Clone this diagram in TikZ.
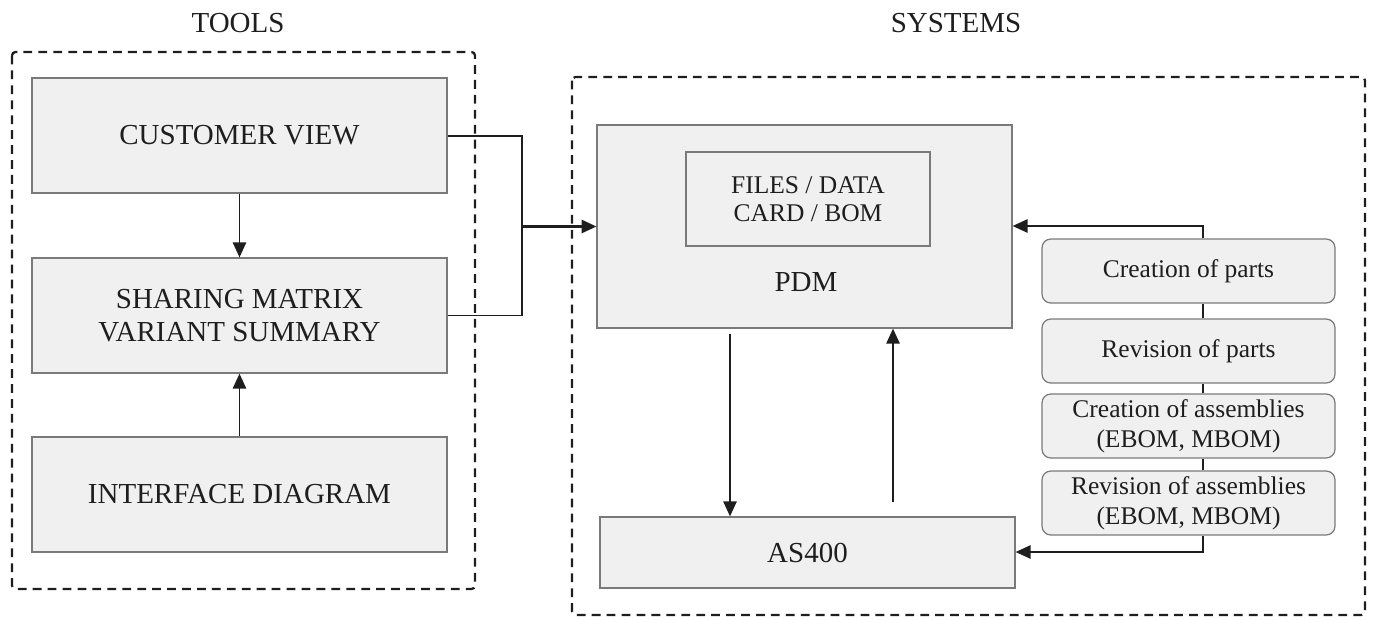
\documentclass[tikz,border=0pt]{standalone}
\usepackage{fontspec}
\setmainfont{Liberation Serif}
\usetikzlibrary{arrows.meta}
\definecolor{boxfill}{HTML}{F0F0F0}
\definecolor{boxline}{HTML}{7A7A7A}
\definecolor{ink}{HTML}{1E1E1E}
\begin{document}
\begin{tikzpicture}[x=0.02cm,y=-0.02cm,
  bigtext/.style={font=\fontsize{16.5}{19}\selectfont, text=ink},
  smalltext/.style={font=\fontsize{14.5}{17}\selectfont, text=ink},
  mainbox/.style={draw=boxline, fill=boxfill, line width=0.7pt, inner sep=0pt, align=center, bigtext},
  stepbox/.style={draw=boxline, fill=boxfill, line width=0.7pt, rounded corners=5pt, inner sep=0pt, align=center, smalltext, minimum width=5.86cm, minimum height=1.28cm},
  groupbox/.style={draw=ink, line width=1.3pt, dash pattern=on 5pt off 3.5pt, rounded corners=2pt},
  conn/.style={draw=ink, line width=1.1pt},
  arr/.style={conn, -{Triangle[length=8.5pt,width=7.5pt]}}
]
\useasboundingbox (0,0) rectangle (1375,619);

% group frames
\draw[groupbox] (12,52) rectangle (475,589);
\draw[groupbox] (572,77) rectangle (1365,615);
\node[bigtext] (tools) at (238,23) {TOOLS};
\node[bigtext] (systems) at (956,23) {SYSTEMS};

% tools
\node[mainbox, minimum width=8.3cm, minimum height=2.3cm] (cv) at (239.5,135.5) {CUSTOMER VIEW};
\node[mainbox, minimum width=8.3cm, minimum height=2.3cm] (sm) at (239.5,315.5) {SHARING MATRIX\\VARIANT SUMMARY};
\node[mainbox, minimum width=8.3cm, minimum height=2.3cm] (id) at (239.5,494.5) {INTERFACE DIAGRAM};

% systems
\node[mainbox, minimum width=8.3cm, minimum height=4.06cm] (pdm) at (804.5,226.5) {};
\node[mainbox, smalltext, minimum width=4.88cm, minimum height=1.88cm, font=\fontsize{14.5}{16}\selectfont] (files) at (808,199) {FILES / DATA\\CARD / BOM};
\node[bigtext] (pdmlabel) at (806,282) {PDM};
\node[mainbox, minimum width=8.3cm, minimum height=1.42cm] (as) at (807.5,552.5) {AS400};

\node[stepbox] (cp) at (1188.5,271) {Creation of parts};
\node[stepbox] (rp) at (1188.5,351) {Revision of parts};
\node[stepbox] (ca) at (1188.5,426) {Creation of assemblies\\(EBOM, MBOM)};
\node[stepbox] (ra) at (1188.5,503) {Revision of assemblies\\(EBOM, MBOM)};

% helper coordinates
\coordinate (jx) at (522,0);
\coordinate (ax) at (730,0);
\coordinate (bx) at (893,0);
\coordinate (vx) at (1203,0);
\coordinate (ty) at (0,226);
\coordinate (by) at (0,552);

% connectors tools -> PDM
\draw[conn] (cv.east |- 0,136) -| (jx |- sm.east) -- (sm.east);
\draw[arr, line width=1.4pt] (jx |- pdm.west) -- (pdm.west);
\draw[arr] (cv.south) -- (sm.north);
\draw[arr] (id.north) -- (sm.south);

% PDM <-> AS400
\draw[arr] ([yshift=-5*0.02cm]ax |- pdm.south) -- (ax |- as.north);
\draw[arr] ([yshift=14*0.02cm]bx |- as.north) -- (bx |- pdm.south);

% steps chain
\draw[conn] (vx |- cp.south) -- (vx |- rp.north);
\draw[conn] (vx |- rp.south) -- (vx |- ca.north);
\draw[conn] (vx |- ca.south) -- (vx |- ra.north);
\draw[arr] (vx |- cp.north) -- (vx |- ty) -- (pdm.east |- ty);
\draw[arr] (vx |- ra.south) -- (vx |- by) -- (as.east |- by);
\end{tikzpicture}
\end{document}
